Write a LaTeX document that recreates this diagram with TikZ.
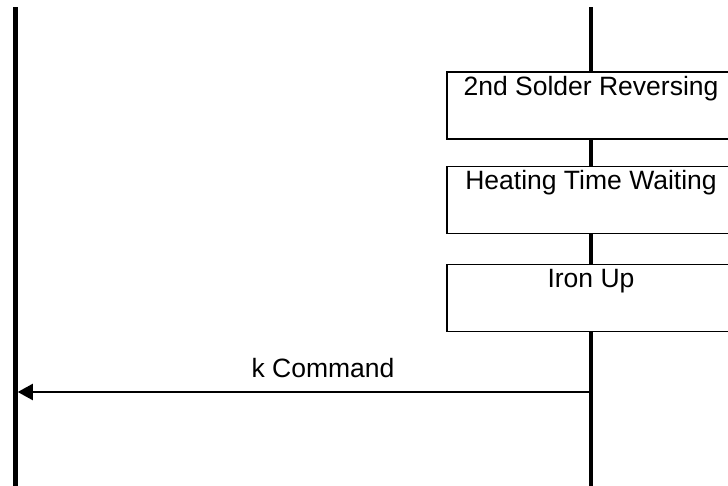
\documentclass[tikz,border=0pt]{standalone}
\usepackage{fontspec}
\setmainfont{Liberation Sans}
\usetikzlibrary{arrows.meta}

\begin{document}
\begin{tikzpicture}[
    x=1pt, y=-1pt,
    lifeline/.style={rectangle,fill=black,inner sep=0pt,minimum width=4.5pt,minimum height=479pt},
    stepbox/.style={rectangle,draw=black,fill=white,line width=1.2pt,minimum width=288pt,minimum height=67pt,inner sep=0pt},
    steptext/.style={anchor=base,inner sep=0pt,font=\fontsize{26.5}{30}\selectfont},
    msg/.style={line width=2pt,-{Triangle[length=15pt,width=16pt]}},
]
\useasboundingbox (0,0) rectangle (728,486);
\clip (0,0) rectangle (728,486);

% the two lifelines
\node[lifeline] (host) at (15.3,246.5) {};
\node[lifeline] (iron) at (591,246.5) {};

% steps done on the iron side
\node[stepbox] (reverse) at (591,105.5) {};
\node[steptext] at ([yshift=-24pt]reverse.north) {2nd Solder Reversing};

\node[stepbox] (heat) at (591,200) {};
\node[steptext] at ([yshift=-24pt]heat.north) {Heating Time Waiting};

\node[stepbox] (up) at (591,298) {};
\node[steptext] at ([yshift=-24pt]up.north) {Iron Up};

% reply back to the host
\coordinate (cmd) at (0,392);
\draw[msg] (iron.west |- cmd) -- (host.east |- cmd);
\node[steptext] (cmdlabel) at (323,377) {k Command};
\end{tikzpicture}
\end{document}
